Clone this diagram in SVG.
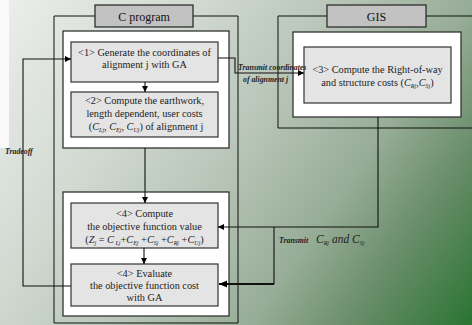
<svg xmlns="http://www.w3.org/2000/svg" width="472" height="325" viewBox="0 0 472 325">
<defs>
<linearGradient id="bg" gradientUnits="userSpaceOnUse" x1="0" y1="0" x2="472" y2="325">
<stop offset="0" stop-color="#eceeec"/>
<stop offset="0.3" stop-color="#d0d8d0"/>
<stop offset="0.5" stop-color="#b6c4b6"/>
<stop offset="0.68" stop-color="#97ad97"/>
<stop offset="0.82" stop-color="#6a8e6b"/>
<stop offset="1" stop-color="#2a7432"/>
</linearGradient>
<marker id="ah" markerWidth="7" markerHeight="7" refX="6" refY="3.5" orient="auto" markerUnits="userSpaceOnUse">
<path d="M0,0.5 L6,3.5 L0,6.5 Z" fill="#000"/>
</marker>
<marker id="ahb" markerWidth="9" markerHeight="9" refX="8" refY="4.5" orient="auto" markerUnits="userSpaceOnUse">
<path d="M0,1 L8,4.5 L0,8 Z" fill="#000"/>
</marker>
</defs>
<style>
.frame{fill:none;stroke:#111;stroke-width:1}
.white{fill:#fff;stroke:#333;stroke-width:1.3}
.box{fill:#e4e4e4;stroke:#333;stroke-width:1.2}
.title{fill:#c2c2c2;stroke:#222;stroke-width:1.2}
.t{font-family:"Liberation Serif","Times New Roman",serif;font-size:10.3px;fill:#222;text-anchor:middle}
.tt{font-family:"Liberation Serif","Times New Roman",serif;font-size:12px;fill:#111;text-anchor:middle}
.lbl{font-family:"Liberation Serif","Times New Roman",serif;font-size:7.8px;font-weight:bold;font-style:italic;fill:#222}
.c{font-style:italic}
.s{font-size:6px;font-style:italic}
.conn{fill:none;stroke:#111;stroke-width:1.1}
</style>
<rect x="0" y="0" width="472" height="325" fill="url(#bg)"/>
<rect x="0" y="0" width="9" height="148" fill="#fafafa"/>

<g id="c-program">
<polyline class="frame" points="95,16 54,16 54,323 238,323 238,16 193,16"/>
<rect class="title" x="95" y="5" width="98" height="22"/>
<text class="tt" x="144" y="21">C program</text>
<rect class="white" x="63" y="31" width="166" height="117"/>
<rect class="white" x="63" y="192" width="166" height="124"/>
</g>

<g id="gis">
<polyline class="frame" points="327,16 278,16 278,128 472,128"/>
<line class="frame" x1="426" y1="16" x2="472" y2="16"/>
<rect class="title" x="327" y="5" width="99" height="22"/>
<text class="tt" x="376.5" y="21">GIS</text>
<rect class="white" x="293" y="32" width="168" height="85"/>
</g>

<g id="node1">
<rect class="box" x="71" y="42" width="147" height="40"/>
<text class="t" x="144.5" y="56">&lt;1&gt; Generate the coordinates of</text>
<text class="t" x="144.5" y="68">alignment j with GA</text>
</g>

<g id="node2">
<rect class="box" x="71" y="92" width="147" height="45"/>
<text class="t" x="144.5" y="104">&lt;2&gt; Compute the earthwork,</text>
<text class="t" x="144.5" y="117">length dependent, user costs</text>
<text class="t" x="146" y="130">(<tspan class="c">C</tspan><tspan class="s" dy="2">Lj</tspan><tspan dy="-2">,  </tspan><tspan class="c">C</tspan><tspan class="s" dy="2">Ej</tspan><tspan dy="-2">,  </tspan><tspan class="c">C</tspan><tspan class="s" dy="2">Uj</tspan><tspan dy="-2">)    of alignment j</tspan></text>
</g>

<g id="node3">
<rect class="box" x="304" y="47" width="147" height="56"/>
<text class="t" x="377.5" y="73">&lt;3&gt; Compute the Right-of-way</text>
<text class="t" x="377.5" y="86">and structure costs  (<tspan class="c">C</tspan><tspan class="s" dy="2">Rj</tspan><tspan dy="-2">,</tspan><tspan class="c">C</tspan><tspan class="s" dy="2">Sj</tspan><tspan dy="-2">)</tspan></text>
</g>

<g id="node4a">
<rect class="box" x="71" y="203" width="147" height="45"/>
<text class="t" x="144.5" y="217">&lt;4&gt; Compute</text>
<text class="t" x="144.5" y="230">the objective function value</text>
<text class="t" x="144.5" y="243">(<tspan class="c">Z</tspan><tspan class="s" dy="2">j</tspan><tspan dy="-2"> = </tspan><tspan class="c">C</tspan><tspan class="s" dy="2"> Lj</tspan><tspan dy="-2">+</tspan><tspan class="c">C</tspan><tspan class="s" dy="2">Ej</tspan><tspan dy="-2"> +</tspan><tspan class="c">C</tspan><tspan class="s" dy="2">Sj</tspan><tspan dy="-2"> +</tspan><tspan class="c">C</tspan><tspan class="s" dy="2">Rj</tspan><tspan dy="-2"> +</tspan><tspan class="c">C</tspan><tspan class="s" dy="2">Uj</tspan><tspan dy="-2">)</tspan></text>
</g>

<g id="node4b">
<rect class="box" x="71" y="264" width="147" height="42"/>
<text class="t" x="144.5" y="277">&lt;4&gt; Evaluate</text>
<text class="t" x="144.5" y="289">the objective function cost</text>
<text class="t" x="144.5" y="301">with GA</text>
</g>

<g id="connectors">
<line class="conn" x1="145" y1="82" x2="145" y2="92" marker-end="url(#ah)"/>
<line class="conn" x1="145" y1="148" x2="145" y2="203" marker-end="url(#ah)"/>
<line class="conn" x1="144" y1="248" x2="144" y2="264" marker-end="url(#ah)"/>
<polyline class="conn" points="218,58 235,58 235,73 304,73" marker-end="url(#ah)"/>
<polyline class="conn" points="71,286 23,286 23,59 71,59" marker-end="url(#ah)"/>
<polyline class="conn" points="378,117 378,227 218,227" marker-end="url(#ah)"/>
<polyline class="conn" points="274,227 274,284"/>
<line x1="274" y1="284" x2="219" y2="284" stroke="#111" stroke-width="1.8" marker-end="url(#ahb)"/>
<text class="lbl" x="5" y="154">Tradeoff</text>
<text class="lbl" x="238" y="70">Transmit coordinates</text>
<text class="lbl" x="243" y="82">of alignment j</text>
<text class="lbl" x="279" y="243">Transmit</text>
<text x="316" y="243" font-family="Liberation Serif,Times New Roman,serif" font-size="11.5px" font-style="italic" fill="#222">C<tspan font-size="6px" dy="2">Rj</tspan><tspan dy="-2"> and C</tspan><tspan font-size="6px" dy="2">Sj</tspan></text>
</g>
</svg>
